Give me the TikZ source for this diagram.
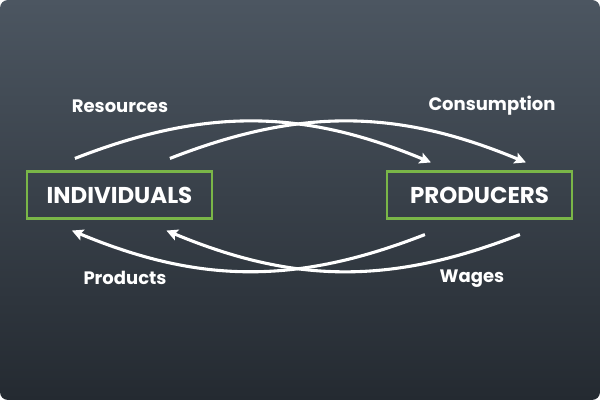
\documentclass[tikz,border=0pt]{standalone}
\usepackage{fontspec}
\setmainfont{Poppins}
\usetikzlibrary{arrows.meta,positioning,calc}
\definecolor{boxgreen}{HTML}{7AB648}
\definecolor{bgtop}{HTML}{4C5661}
\definecolor{bgbottom}{HTML}{242A31}

\begin{document}
\begin{tikzpicture}[x=0.025cm, y=0.025cm,
        box/.style={draw=boxgreen, line width=1.5pt, minimum width=4.625cm, minimum height=1.175cm,
            inner sep=0pt, text=white, font=\fontsize{16.3}{18}\selectfont\bfseries},
        flowlabel/.style={text=white, inner sep=0pt, font=\fontsize{12.8}{15}\selectfont\bfseries},
        flow/.style={white, line width=2.2pt, -{Stealth[length=8pt,width=8pt,inset=1.5pt]}, bend left=22}]
            % background panel
            \shade [top color=bgtop, bottom color=bgbottom, rounded corners=0.2cm] (0,0) rectangle (600,-400);
            % the two parties
            \node [box] (ind) at (119.5,-195) {INDIVIDUALS\hspace{6pt}};
            \node [box] (prod) at (479.5,-195) {PRODUCERS\hspace{8pt}};
            % connector ends
            \coordinate (resstart) at ($(ind.north west)+(49,12)$);
            \coordinate (consstart) at ($(ind.north west)+(144,12)$);
            \coordinate (restip) at ($(prod.north west)+(45,8)$);
            \coordinate (constip) at ($(prod.north west)+(140,8)$);
            \coordinate (prodstart) at ($(prod.south west)+(39,-15)$);
            \coordinate (prodtip) at ($(ind.south west)+(46,-11)$);
            \coordinate (wagestart) at ($(prod.south west)+(134,-15)$);
            \coordinate (wagetip) at ($(ind.south west)+(140.5,-11)$);
            % flows
            \draw [flow] (resstart) to (restip);
            \draw [flow] (consstart) to (constip);
            \draw [flow] (prodstart) to (prodtip);
            \draw [flow] (wagestart) to (wagetip);
            % labels
            \node [flowlabel] (res) at (120,-106) {Resources};
            \node [flowlabel] (cons) at (492,-106) {Consumption};
            \node [flowlabel] (prods) at (125,-278) {Products};
            \node [flowlabel] (wages) at (472,-279) {Wages};
        \end{tikzpicture}
\end{document}
